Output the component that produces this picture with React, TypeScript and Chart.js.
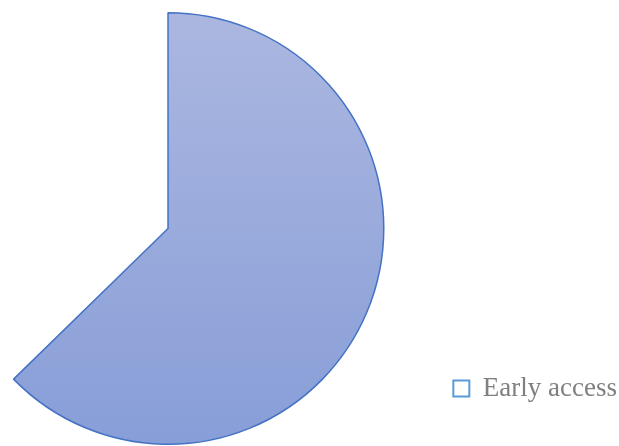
import React, { useEffect, useRef } from "react";
import { Chart, registerables } from "chart.js";

Chart.register(...registerables);

const categories: string[] = ["Early access"];
const values: number[] = [62.7]; // percent of the full circle

const CANVAS_W = 640;
const CANVAS_H = 446;
const SHIFT_X = 13;

export default function App() {
  const ref = useRef<HTMLCanvasElement | null>(null);

  useEffect(() => {
    document.body.style.margin = "0";
    const canvas = ref.current;
    if (!canvas) return;
    const total = 100;
    const chart = new Chart(canvas, {
      type: "pie",
      data: {
        labels: categories,
        datasets: [
          {
            data: values,
            backgroundColor: (ctx: any) => {
              const { chart } = ctx;
              const area = chart.chartArea;
              if (!area) return "#9aabdc";
              const g = chart.ctx.createLinearGradient(0, area.top, 0, area.bottom);
              g.addColorStop(0, "#abb7e0");
              g.addColorStop(1, "#889ed8");
              return g;
            },
            borderColor: "#4472c4",
            borderWidth: 1.5,
          },
        ],
      },
      options: {
        responsive: false,
        animation: false,
        circumference: (values[0] / total) * 360,
        layout: { padding: { top: 12, bottom: 1, left: 0, right: 0 } },
        plugins: {
          tooltip: { enabled: false },
          legend: {
            position: "right",
            align: "end",
            labels: {
              padding: 43,
              boxWidth: 16,
              boxHeight: 16,
              color: "#808080",
              font: { family: "'Liberation Serif', serif", size: 27 },
              generateLabels: () =>
                categories.map((c, i) => ({
                  text: c,
                  fillStyle: "#ffffff",
                  strokeStyle: "#5b9bd5",
                  fontColor: "#808080",
                  lineWidth: 2,
                  hidden: false,
                  index: i,
                })),
            },
          },
        },
      },
    });
    return () => chart.destroy();
  }, []);

  return (
    <div
      style={{
        position: "fixed",
        left: 0,
        top: 0,
        width: 619,
        height: 446,
        overflow: "hidden",
        background: "#ffffff",
      }}
    >
      <canvas
        ref={ref}
        width={CANVAS_W}
        height={CANVAS_H}
        style={{ position: "absolute", left: -SHIFT_X, top: 0, width: CANVAS_W, height: CANVAS_H }}
      />
    </div>
  );
}
